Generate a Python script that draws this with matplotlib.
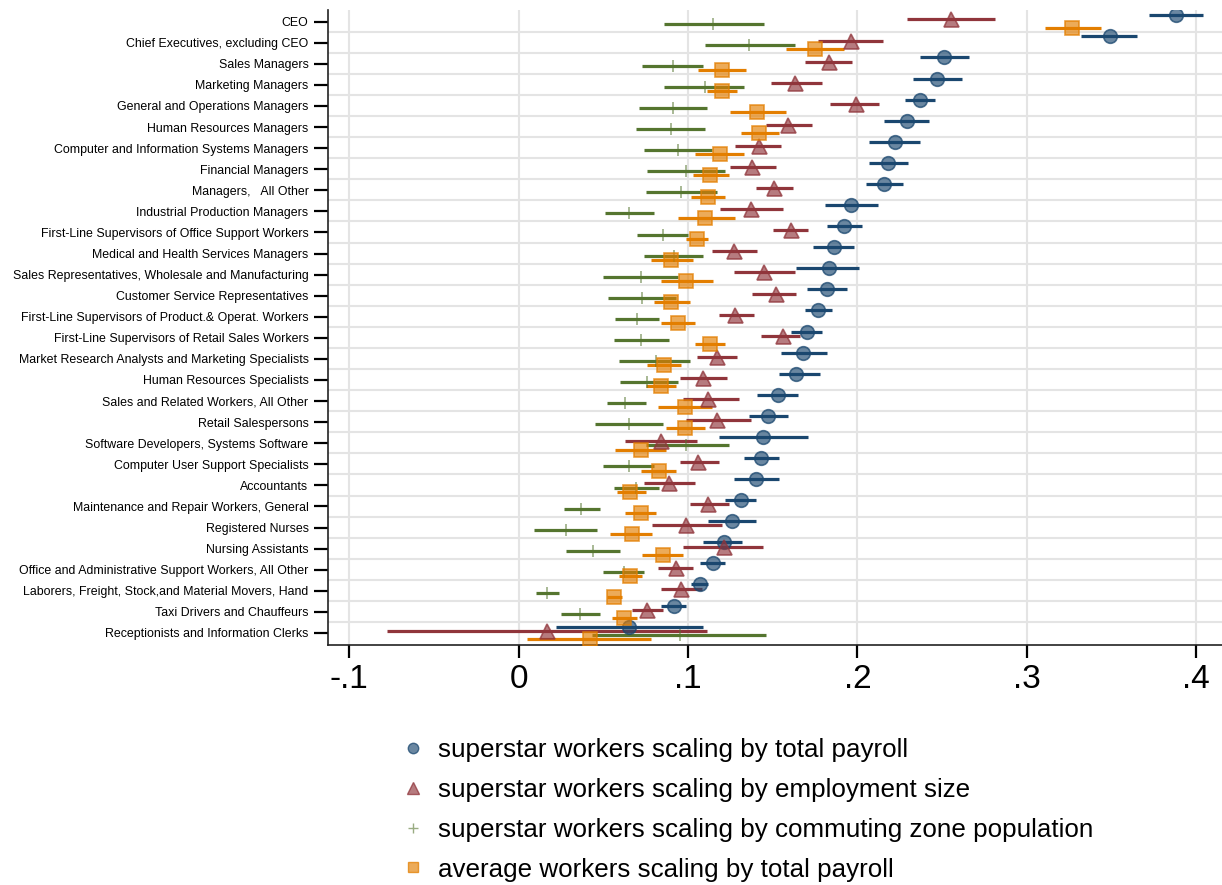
import matplotlib
matplotlib.use("Agg")
import matplotlib.pyplot as plt
from matplotlib.lines import Line2D
import numpy as np

plt.rcParams['font.family'] = ['Liberation Sans', 'DejaVu Sans']

# occupations, top to bottom
occupations = [
    "CEO",
    "Chief Executives, excluding CEO",
    "Sales Managers",
    "Marketing Managers",
    "General and Operations Managers",
    "Human Resources Managers",
    "Computer and Information Systems Managers",
    "Financial Managers",
    "Managers,   All Other",
    "Industrial Production Managers",
    "First-Line Supervisors of Office Support Workers",
    "Medical and Health Services Managers",
    "Sales Representatives, Wholesale and Manufacturing",
    "Customer Service Representatives",
    "First-Line Supervisors of Product.& Operat. Workers",
    "First-Line Supervisors of Retail Sales Workers",
    "Market Research Analysts and Marketing Specialists",
    "Human Resources Specialists",
    "Sales and Related Workers, All Other",
    "Retail Salespersons",
    "Software Developers, Systems Software",
    "Computer User Support Specialists",
    "Accountants",
    "Maintenance and Repair Workers, General",
    "Registered Nurses",
    "Nursing Assistants",
    "Office and Administrative Support Workers, All Other",
    "Laborers, Freight, Stock,and Material Movers, Hand",
    "Taxi Drivers and Chauffeurs",
    "Receptionists and Information Clerks",
]

# superstar workers scaling by total payroll
payroll_est = [0.388, 0.349, 0.251, 0.247, 0.237, 0.229, 0.222, 0.218, 0.216, 0.196,
               0.192, 0.186, 0.183, 0.182, 0.177, 0.170, 0.168, 0.164, 0.153, 0.147,
               0.144, 0.143, 0.140, 0.131, 0.126, 0.121, 0.115, 0.107, 0.092, 0.065]
payroll_lo = [0.372, 0.332, 0.237, 0.233, 0.228, 0.216, 0.207, 0.207, 0.205, 0.181,
              0.182, 0.174, 0.164, 0.170, 0.169, 0.161, 0.155, 0.154, 0.141, 0.136,
              0.118, 0.133, 0.127, 0.122, 0.112, 0.109, 0.107, 0.102, 0.084, 0.022]
payroll_hi = [0.404, 0.365, 0.266, 0.262, 0.246, 0.242, 0.237, 0.230, 0.227, 0.212,
              0.203, 0.198, 0.201, 0.194, 0.185, 0.179, 0.182, 0.178, 0.165, 0.159,
              0.171, 0.154, 0.154, 0.140, 0.140, 0.132, 0.122, 0.112, 0.099, 0.109]

# superstar workers scaling by employment size
emp_est = [0.255, 0.196, 0.183, 0.163, 0.199, 0.159, 0.142, 0.138, 0.151, 0.137,
           0.161, 0.127, 0.145, 0.152, 0.128, 0.156, 0.117, 0.109, 0.112, 0.117,
           0.084, 0.106, 0.089, 0.112, 0.099, 0.121, 0.093, 0.096, 0.076, 0.017]
emp_lo = [0.229, 0.177, 0.169, 0.149, 0.184, 0.146, 0.128, 0.125, 0.140, 0.119,
          0.150, 0.114, 0.127, 0.138, 0.118, 0.143, 0.105, 0.095, 0.097, 0.099,
          0.063, 0.095, 0.074, 0.101, 0.079, 0.097, 0.082, 0.084, 0.067, -0.078]
emp_hi = [0.281, 0.215, 0.197, 0.179, 0.213, 0.173, 0.155, 0.152, 0.162, 0.156,
          0.171, 0.141, 0.163, 0.164, 0.139, 0.166, 0.129, 0.123, 0.130, 0.137,
          0.105, 0.118, 0.104, 0.124, 0.120, 0.144, 0.103, 0.108, 0.085, 0.111]

# superstar workers scaling by commuting zone population
cz_est = [0.115, 0.136, 0.091, 0.110, 0.091, 0.090, 0.094, 0.099, 0.096, 0.065,
          0.085, 0.092, 0.072, 0.073, 0.070, 0.072, 0.081, 0.076, 0.063, 0.065,
          0.099, 0.065, 0.069, 0.037, 0.028, 0.044, 0.062, 0.017, 0.036, 0.095]
cz_lo = [0.086, 0.110, 0.073, 0.086, 0.071, 0.069, 0.074, 0.076, 0.075, 0.051,
         0.070, 0.074, 0.050, 0.053, 0.057, 0.056, 0.059, 0.060, 0.052, 0.045,
         0.075, 0.050, 0.056, 0.027, 0.009, 0.028, 0.050, 0.010, 0.025, 0.043]
cz_hi = [0.145, 0.163, 0.109, 0.133, 0.111, 0.110, 0.114, 0.122, 0.117, 0.080,
         0.100, 0.109, 0.094, 0.093, 0.083, 0.089, 0.101, 0.094, 0.075, 0.085,
         0.124, 0.080, 0.083, 0.048, 0.046, 0.060, 0.074, 0.024, 0.048, 0.146]

# average workers scaling by total payroll
avg_est = [0.327, 0.175, 0.120, 0.120, 0.141, 0.142, 0.119, 0.113, 0.112, 0.110,
           0.105, 0.090, 0.099, 0.090, 0.094, 0.113, 0.086, 0.084, 0.098, 0.098,
           0.072, 0.083, 0.066, 0.072, 0.067, 0.085, 0.066, 0.056, 0.062, 0.042]
avg_lo = [0.311, 0.158, 0.106, 0.111, 0.125, 0.131, 0.104, 0.103, 0.102, 0.094,
          0.099, 0.078, 0.084, 0.080, 0.084, 0.104, 0.076, 0.075, 0.082, 0.087,
          0.057, 0.072, 0.058, 0.063, 0.054, 0.073, 0.059, 0.052, 0.055, 0.005]
avg_hi = [0.344, 0.192, 0.134, 0.129, 0.158, 0.154, 0.133, 0.124, 0.122, 0.128,
          0.112, 0.103, 0.115, 0.101, 0.104, 0.122, 0.096, 0.093, 0.114, 0.110,
          0.087, 0.093, 0.075, 0.081, 0.079, 0.097, 0.073, 0.061, 0.070, 0.078]

labels = ["superstar workers scaling by total payroll",
          "superstar workers scaling by employment size",
          "superstar workers scaling by commuting zone population",
          "average workers scaling by total payroll"]

navy = "#1a476f"
maroon = "#90353b"
forest = "#55752f"
dkorange = "#e37e00"

series = [
    (payroll_est, payroll_lo, payroll_hi, navy, "o", 9.8, -0.3),
    (emp_est, emp_lo, emp_hi, maroon, "^", 10.8, -0.1),
    (cz_est, cz_lo, cz_hi, forest, "+", 8.0, 0.1),
    (avg_est, avg_lo, avg_hi, dkorange, "s", 9.6, 0.3),
]

fig = plt.figure(figsize=(12.22, 8.85), dpi=100)
ax = fig.add_axes([328 / 1222, 1 - 645 / 885, 1 - 328 / 1222, (645 - 10) / 885])

y = np.arange(len(occupations))
for est, lo, hi, col, mk, ms, off in series:
    est = np.array(est)
    lo = np.array(lo)
    hi = np.array(hi)
    yy = y + off
    ax.hlines(yy, lo, hi, color=col, lw=2.3, zorder=3)
    if mk == "+":
        ax.plot(est, yy, ls="none", marker=mk, ms=ms, mew=1.3,
                color=matplotlib.colors.to_rgba(col, 0.55), zorder=4)
    else:
        ax.plot(est, yy, ls="none", marker=mk, ms=ms,
                mfc=matplotlib.colors.to_rgba(col, 0.65),
                mec=matplotlib.colors.to_rgba(col, 0.75), mew=1.2, zorder=4)

ax.set_xlim(-0.1126, 0.4153)
ax.set_ylim(len(occupations) - 0.43, -0.55)
ax.set_xticks([-0.1, 0, 0.1, 0.2, 0.3, 0.4])
ax.set_xticklabels(["-.1", "0", ".1", ".2", ".3", ".4"], fontsize=24)
ax.set_yticks(y)
ax.set_yticklabels(occupations, fontsize=8.9)
ax.set_yticks(y[:-1] + 0.48, minor=True)
ax.tick_params(axis="y", which="minor", length=0)
ax.tick_params(axis="y", which="major", length=10, width=1.6, pad=4)
ax.tick_params(axis="x", length=9.5, width=1.6, pad=4)

ax.grid(axis="x", which="major", color="#e4e4e4", lw=1.5, zorder=0)
ax.grid(axis="y", which="minor", color="#e4e4e4", lw=1.5, zorder=0)
ax.set_axisbelow(True)
for s in ["top", "right"]:
    ax.spines[s].set_visible(False)
for s in ["left", "bottom"]:
    ax.spines[s].set_linewidth(1.2)
    ax.spines[s].set_color("#222222")

handles = []
for est, lo, hi, col, mk, ms, off in series:
    if mk == "+":
        h = Line2D([], [], ls="none", marker=mk, ms=6.5, mew=1.0,
                   color=matplotlib.colors.to_rgba(col, 0.6))
    else:
        h = Line2D([], [], ls="none", marker=mk, ms=7.5 if mk != "^" else 8.5,
                   mfc=matplotlib.colors.to_rgba(col, 0.65),
                   mec=matplotlib.colors.to_rgba(col, 0.75), mew=1.0)
    handles.append(h)

fig.legend(handles, labels, loc="upper left", bbox_to_anchor=(400 / 1222, 1 - 738 / 885),
           frameon=False, fontsize=18.7, handletextpad=0.45, labelspacing=0.61,
           handlelength=1.0, borderaxespad=0, borderpad=0)

fig.savefig("out.png", dpi=100)
